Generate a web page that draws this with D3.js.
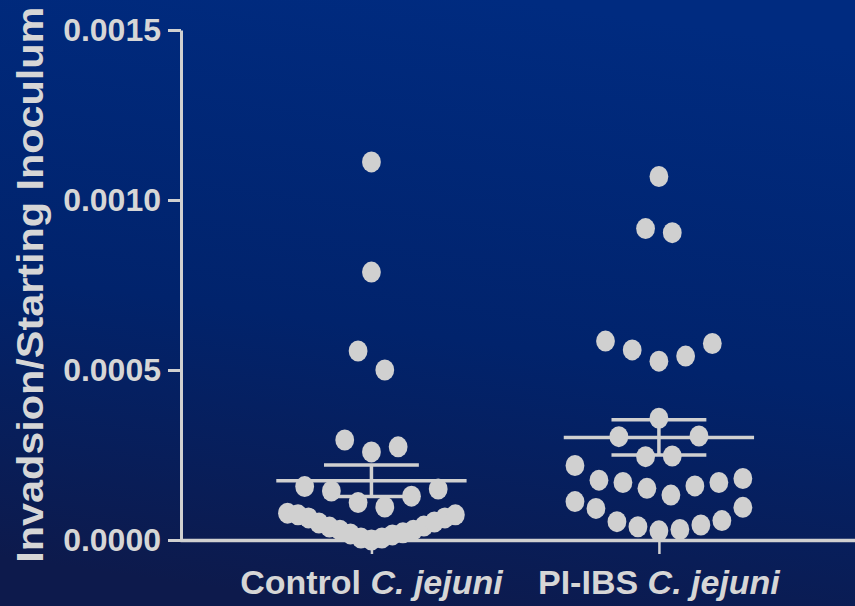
<!DOCTYPE html>
<html>
<head>
<meta charset="utf-8">
<script src="https://cdn.jsdelivr.net/npm/d3@7"></script>
<style>
  html, body { margin: 0; padding: 0; background: #0c1a4e; }
  svg { display: block; }
</style>
</head>
<body>
<svg id="chart" width="855" height="606"></svg>
<script>
// Groups on the x axis
const categories = ["Control", "PI-IBS"];
const categoryPrefix = ["Control ", "PI-IBS "];
const categorySpecies = ["C. jejuni", "C. jejuni"];

// Invasion / starting inoculum, listed tier by tier (top down, left to right)
const controlValues = [
  0.001112,
  0.000788,
  0.000556, 0.000500,
  0.000294, 0.000259, 0.000274,
  0.000157, 0.000144, 0.000110, 0.000097, 0.000129, 0.000150,
  0.000079, 0.000074, 0.000065, 0.000050, 0.000038, 0.000029, 0.000018, 0.000006, 0.000000,
  0.000006, 0.000015, 0.000021, 0.000029, 0.000041, 0.000053, 0.000065, 0.000074
];
const controlTiers = [1, 1, 2, 3, 6, 17];

const piIbsValues = [
  0.001069,
  0.000916, 0.000904,
  0.000585, 0.000559, 0.000526, 0.000541, 0.000578,
  0.000358,
  0.000304, 0.000245, 0.000247, 0.000306,
  0.000219, 0.000176, 0.000169, 0.000152, 0.000132, 0.000159, 0.000169, 0.000181,
  0.000113, 0.000093, 0.000054, 0.000039, 0.000027, 0.000031, 0.000044, 0.000057, 0.000096
];
const piIbsTiers = [1, 2, 5, 1, 4, 8, 9];

const yTicks = [0, 0.0005, 0.0010, 0.0015];
const yTitle = "Invadsion/Starting Inoculum";

const groups = [
  { key: categories[0], values: controlValues, tiers: controlTiers },
  { key: categories[1], values: piIbsValues, tiers: piIbsTiers }
];

const W = 855, H = 606;
const plotLeft = 181, plotRight = 855, plotTop = 30, plotBottom = 540;
const ink = "#d0d0d0";
const textInk = "#d6d6d6";
const font = "'Liberation Sans', Arial, Helvetica, sans-serif";

const svg = d3.select("#chart");

// background
const defs = svg.append("defs");
const grad = defs.append("linearGradient")
  .attr("id", "bg").attr("x1", "0.6").attr("y1", "0").attr("x2", "0.4").attr("y2", "1");
grad.append("stop").attr("offset", "0%").attr("stop-color", "#002b80");
grad.append("stop").attr("offset", "55%").attr("stop-color", "#01236c");
grad.append("stop").attr("offset", "100%").attr("stop-color", "#0d1a4c");
svg.append("rect").attr("width", W).attr("height", H).attr("fill", "url(#bg)");

// scales
const x = d3.scalePoint().domain(categories).range([plotLeft - 1, plotRight]).padding(0.674).align(0.494);
const y = d3.scaleLinear().domain([0, 0.0015]).range([plotBottom, plotTop]);

// axes
const yAxis = d3.axisLeft(y).tickValues(yTicks).tickFormat(d3.format(".4f"))
  .tickSize(13).tickSizeOuter(0).tickPadding(7);
const gy = svg.append("g").attr("transform", `translate(${plotLeft},0)`).call(yAxis);
gy.select(".domain").attr("stroke", ink).attr("stroke-width", 3);
gy.selectAll(".tick line").attr("stroke", ink).attr("stroke-width", 3);
gy.selectAll(".tick text").attr("fill", textInk)
  .style("font-family", font).style("font-weight", "bold").style("font-size", "32px");

const xAxis = d3.axisBottom(x).tickSize(14).tickSizeOuter(0).tickFormat("");
const gx = svg.append("g").attr("transform", `translate(0,${plotBottom})`).call(xAxis);
gx.select(".domain").attr("stroke", ink).attr("stroke-width", 3.5);
gx.selectAll(".tick line").attr("stroke", ink).attr("stroke-width", 2.5);

// category labels
const labels = svg.append("g");
categories.forEach((c, i) => {
  const t = labels.append("text")
    .attr("x", x(c)).attr("y", 594)
    .attr("text-anchor", "middle")
    .attr("fill", textInk)
    .style("font-family", font).style("font-weight", "bold").style("font-size", "34px");
  t.append("tspan").text(categoryPrefix[i]);
  t.append("tspan").style("font-style", "italic").text(categorySpecies[i]);
});

// y title
svg.append("text")
  .attr("transform", "rotate(-90)")
  .attr("x", -284.7).attr("y", 43)
  .attr("text-anchor", "middle")
  .attr("fill", textInk)
  .attr("textLength", 556).attr("lengthAdjust", "spacingAndGlyphs")
  .style("font-family", font).style("font-weight", "bold").style("font-size", "36px")
  .text(yTitle);

// spread each tier of points horizontally around its group centre
const slot = x.step() * 0.0929;
const maxSpan = x.step() * 0.584;
function layout(g) {
  const pts = [];
  let k = 0;
  g.tiers.forEach(n => {
    const gap = n > 1 ? Math.min(slot, maxSpan / (n - 1)) : 0;
    for (let i = 0; i < n; i++, k++) {
      pts.push({ v: g.values[k], off: (i - (n - 1) / 2) * gap, key: g.key });
    }
  });
  return pts;
}

const plot = svg.append("g");
groups.forEach(g => {
  const cx = x(g.key);
  const pts = layout(g);
  plot.append("g").selectAll("ellipse").data(pts).join("ellipse")
    .attr("cx", d => cx + d.off)
    .attr("cy", d => y(d.v))
    .attr("rx", 9.4).attr("ry", 10.5)
    .attr("fill", ink);

  // mean with SEM
  const mean = d3.mean(g.values);
  const sem = d3.deviation(g.values) / Math.sqrt(g.values.length);
  const wMean = x.step() * 0.331, wCap = x.step() * 0.165;
  const s = plot.append("g").attr("stroke", ink).attr("stroke-width", 3.5);
  s.append("line").attr("x1", cx - wMean).attr("x2", cx + wMean).attr("y1", y(mean)).attr("y2", y(mean));
  s.append("line").attr("x1", cx).attr("x2", cx).attr("y1", y(mean - sem)).attr("y2", y(mean + sem));
  [mean - sem, mean + sem].forEach(v => {
    s.append("line").attr("x1", cx - wCap).attr("x2", cx + wCap).attr("y1", y(v)).attr("y2", y(v));
  });
});
</script>
</body>
</html>
